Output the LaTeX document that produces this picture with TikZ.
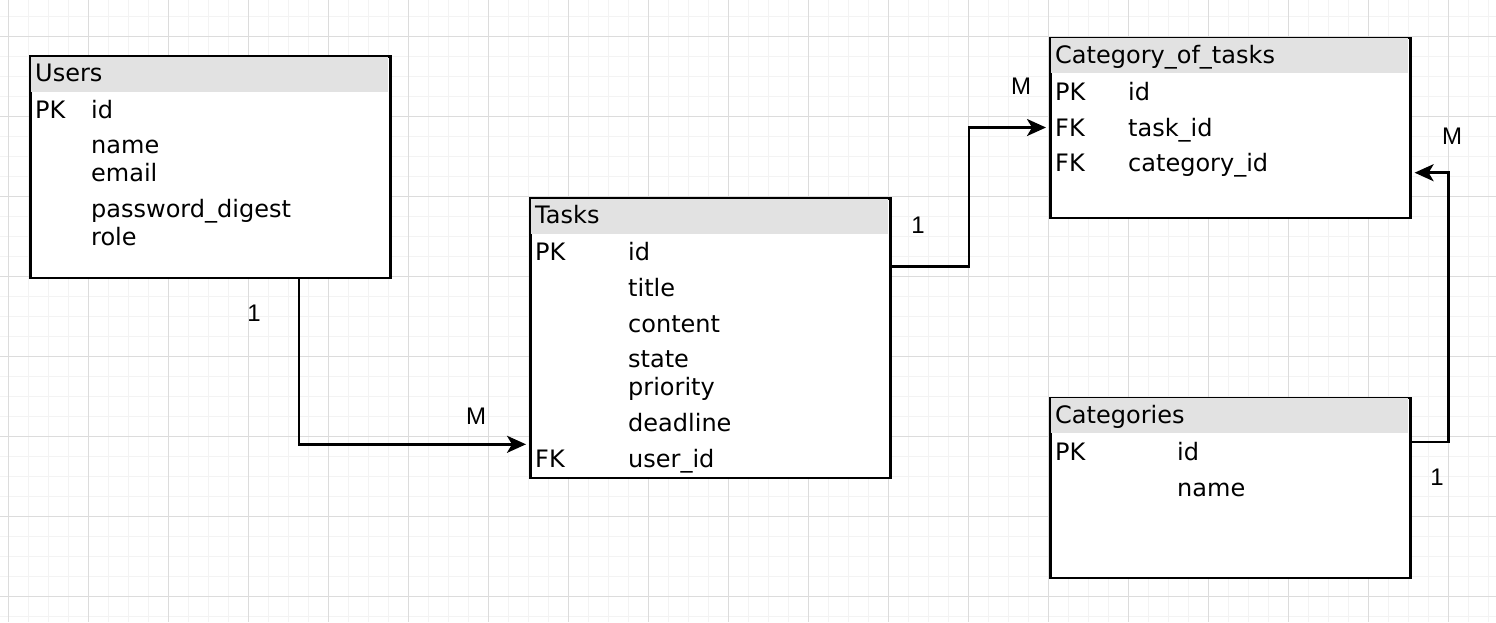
\documentclass[tikz,border=0pt]{standalone}
\usepackage{fontspec}
\setmainfont{DejaVu Sans}
\newfontfamily\lblfont{Liberation Sans}
\usetikzlibrary{arrows.meta}
\definecolor{gridminor}{HTML}{F3F3F3}
\definecolor{gridmajor}{HTML}{DCDCDC}
\definecolor{headfill}{HTML}{E2E2E2}
\tikzset{
  tablebox/.style={draw=black, line width=2.6pt, fill=white, rectangle, anchor=north west, inner sep=0pt, minimum width=360pt},
  headbar/.style={fill=headfill, rectangle, anchor=north west, inner sep=0pt, minimum width=357.4pt, minimum height=35.2pt},
  fld/.style={anchor=base west, inner sep=0pt, font=\fontsize{24}{28}\selectfont},
  card/.style={anchor=center, inner sep=0pt, font=\lblfont\fontsize{24}{28}\selectfont},
  conn/.style={draw=black, line width=2.6pt, -{Stealth[length=19pt, width=17pt, inset=5pt]}, shorten >=3pt}
}
\begin{document}
\begin{tikzpicture}[x=1pt, y=-1pt]
\useasboundingbox (0,0) rectangle (1496,622);
\fill[white] (0,0) rectangle (1496,622);
% grid
\foreach \x in {8.5,28.5,...,1496} \draw[gridminor, line width=1.4pt] (\x,0) -- (\x,622);
\foreach \y in {16.5,36.5,...,622} \draw[gridminor, line width=1.4pt] (0,\y) -- (1496,\y);
\foreach \x in {8.5,88.5,...,1496} \draw[gridmajor, line width=1pt] (\x,0) -- (\x,622);
\foreach \y in {36.5,116.5,...,622} \draw[gridmajor, line width=1pt] (0,\y) -- (1496,\y);

% Users
\node[tablebox, minimum height=221.7pt] (users) at (29,55) {};
\node[headbar] (usersh) at (30.3,56.3) {};
\node[fld] (usersT) at (35,81) {Users};
\node[fld] (usersPK) at (35,118) {PK};
\node[fld] (usersF1) at (91,118) {id};
\node[fld] (usersF2) at (91,153) {name};
\node[fld] (usersF3) at (91,181.5) {email};
\node[fld] (usersF4) at (91,217) {password\_digest};
\node[fld] (usersF5) at (91,245) {role};

% Tasks
\node[tablebox, minimum height=279.4pt] (tasks) at (529,197.3) {};
\node[headbar] (tasksh) at (530.3,198.6) {};
\node[fld] (tasksT) at (535,223.3) {Tasks};
\node[fld] (tasksPK) at (535,260) {PK};
\node[fld] (tasksF1) at (628,260) {id};
\node[fld] (tasksF2) at (628,296) {title};
\node[fld] (tasksF3) at (628,332) {content};
\node[fld] (tasksF4) at (628,367.5) {state};
\node[fld] (tasksF5) at (628,395) {priority};
\node[fld] (tasksF6) at (628,431) {deadline};
\node[fld] (tasksFK) at (535,467) {FK};
\node[fld] (tasksF7) at (628,467) {user\_id};

% Category_of_tasks
\node[tablebox, minimum height=180pt] (cot) at (1049,36.7) {};
\node[headbar] (coth) at (1050.3,38) {};
\node[fld] (cotT) at (1055,63.3) {Category\_of\_tasks};
\node[fld] (cotPK) at (1055,100) {PK};
\node[fld] (cotF1) at (1128,100) {id};
\node[fld] (cotFK1) at (1055,136) {FK};
\node[fld] (cotF2) at (1128,136) {task\_id};
\node[fld] (cotFK2) at (1055,171.7) {FK};
\node[fld] (cotF3) at (1128,171.7) {category\_id};

% Categories
\node[tablebox, minimum height=180pt] (cat) at (1049,396.7) {};
\node[headbar] (cath) at (1050.3,398) {};
\node[fld] (catT) at (1055,423.3) {Categories};
\node[fld] (catPK) at (1055,460) {PK};
\node[fld] (catF1) at (1177,460) {id};
\node[fld] (catF2) at (1177,496) {name};

% connectors
\coordinate (b1) at (299,444.3);
\draw[conn] (users.south -| b1) |- (tasks.west |- b1);
\coordinate (b2a) at (969,266.5);
\coordinate (b2b) at (969,127.5);
\draw[conn] (tasks.east |- b2a) -| (b2b) -- (cot.west |- b2b);
\coordinate (b3a) at (1448.5,442);
\coordinate (b3b) at (1448.5,172.7);
\draw[conn] (cat.east |- b3a) -| (b3b) -- (cot.east |- b3b);

% cardinality labels
\node[card] (l1a) at (254,313.5) {1};
\node[card] (l1b) at (476,416) {M};
\node[card] (l2a) at (918,225) {1};
\node[card] (l2b) at (1021,86) {M};
\node[card] (l3a) at (1452,136.5) {M};
\node[card] (l3b) at (1437,477) {1};
\end{tikzpicture}
\end{document}
